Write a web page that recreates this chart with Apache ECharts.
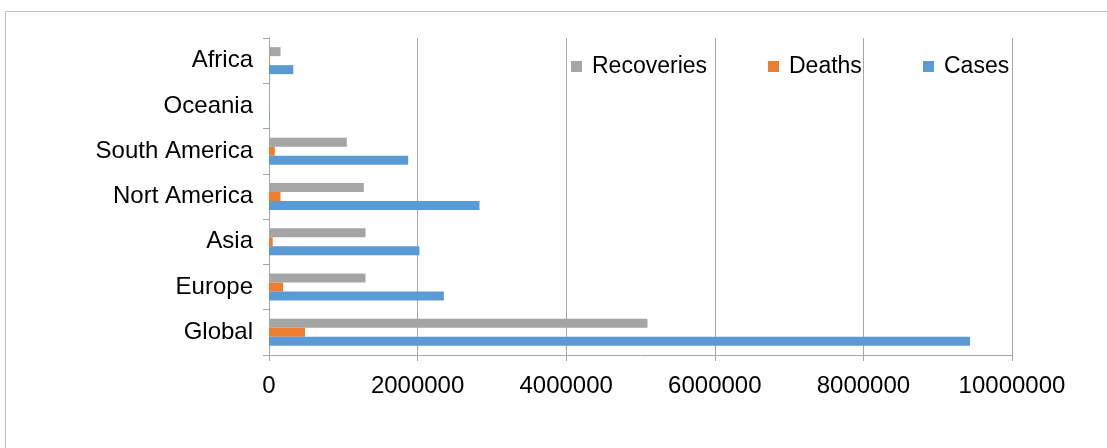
<!DOCTYPE html>
<html>
<head>
<meta charset="utf-8">
<script src="https://cdn.jsdelivr.net/npm/echarts@6/dist/echarts.min.js"></script>
<style>
  html, body { margin: 0; padding: 0; background: #fff; overflow: hidden; }
  #frame { position: absolute; left: 5px; top: 11px; width: 1120px; height: 460px; border-left: 1px solid #bfbfbf; border-top: 1px solid #bfbfbf; }
  #chart { position: absolute; left: 0; top: 0; width: 1107px; height: 448px; }
</style>
</head>
<body>
<div id="frame"></div>
<div id="chart"></div>
<script>
// regions, bottom to top
const regions = ['Global', 'Europe', 'Asia', 'Nort America', 'South America', 'Oceania', 'Africa']
const cases = [9435000, 2353000, 2025000, 2833000, 1873000, 9000, 326000]
const deaths = [485000, 190000, 50000, 155000, 78000, 130, 8500]
const recoveries = [5094000, 1299000, 1299000, 1276000, 1047000, 8000, 155000]
const xTicks = [0, 2000000, 4000000, 6000000, 8000000, 10000000]

const font = '"Liberation Sans", Arial, sans-serif'
const gridColor = '#a6a6a6'

const chart = echarts.init(document.getElementById('chart'), null, { renderer: 'canvas' })

const legendItem = (name, left) => ({
  data: [name], left, top: 55, padding: 0, itemWidth: 11, itemHeight: 11, itemGap: 0,
  icon: 'rect', selectedMode: false,
  textStyle: { fontFamily: font, fontSize: 23, color: '#000', padding: [0, 0, 0, 5] },
})

chart.setOption({
  backgroundColor: 'transparent',
  animation: false,
  legend: [legendItem('Recoveries', 571), legendItem('Deaths', 768), legendItem('Cases', 923)],
  grid: { left: 269, right: 95, top: 38, bottom: 93, containLabel: false },
  xAxis: {
    type: 'value', min: xTicks[0], max: xTicks[xTicks.length - 1], interval: xTicks[1] - xTicks[0],
    axisLine: { show: true, lineStyle: { color: gridColor, width: 1 } },
    axisTick: { show: true, length: 6, lineStyle: { color: gridColor } },
    splitLine: { show: true, lineStyle: { color: gridColor, width: 1 } },
    axisLabel: { fontFamily: font, fontSize: 24, color: '#000', margin: 19, formatter: v => String(v) },
  },
  yAxis: {
    type: 'category', data: regions,
    axisLine: { show: true, lineStyle: { color: gridColor, width: 1 } },
    axisTick: { show: true, length: 6, alignWithLabel: false, lineStyle: { color: gridColor } },
    axisLabel: { fontFamily: font, fontSize: 24, color: '#000', margin: 16 },
  },
  series: [
    { name: 'Recoveries', type: 'bar', data: recoveries, itemStyle: { color: '#a5a5a5' }, barWidth: 9, barGap: '0%' },
    { name: 'Deaths', type: 'bar', data: deaths, itemStyle: { color: '#ed7d31' }, barWidth: 9, barGap: '0%' },
    { name: 'Cases', type: 'bar', data: cases, itemStyle: { color: '#5b9bd5' }, barWidth: 9, barGap: '0%' },
  ],
})
</script>
</body>
</html>
